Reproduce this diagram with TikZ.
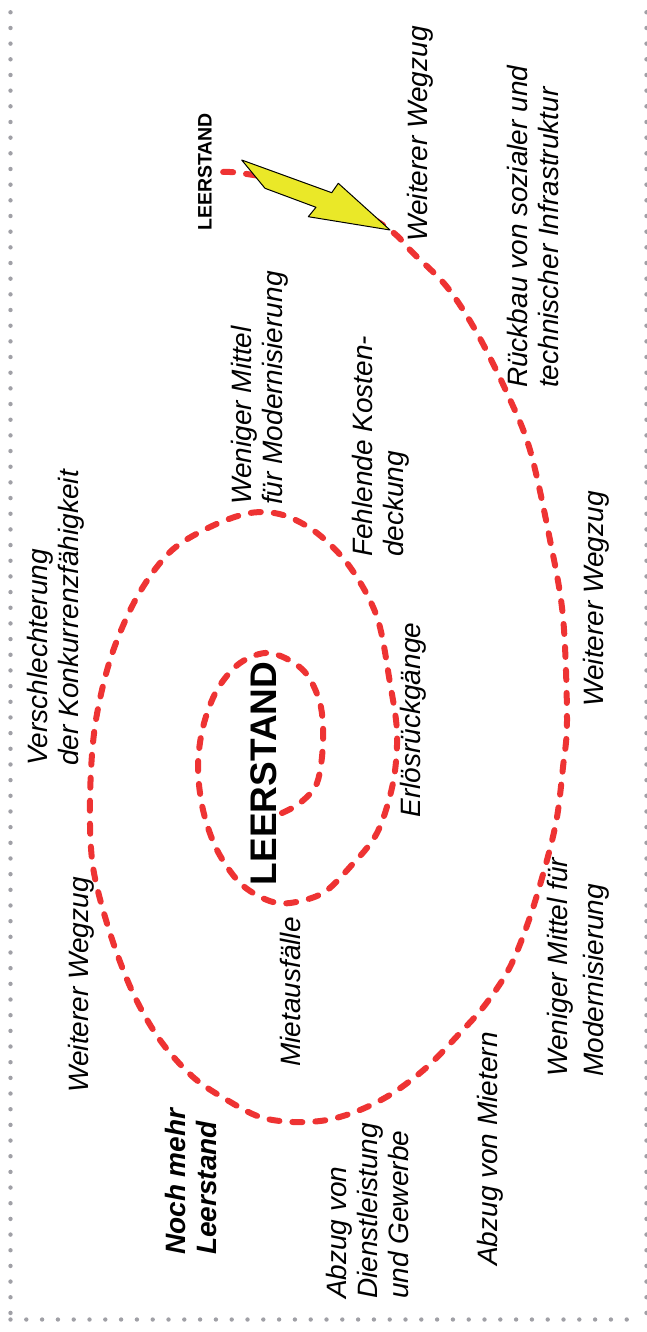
\documentclass[tikz,border=0pt]{standalone}
\usepackage{fontspec}
\setmainfont{Liberation Sans}
\definecolor{spiralred}{RGB}{238,51,51}
\definecolor{boltyellow}{RGB}{234,232,40}
\definecolor{dotgray}{RGB}{160,160,166}

\begin{document}
\begin{tikzpicture}[x=1pt, y=-1pt, line cap=round, line join=round,
  spiral/.style={draw=spiralred, line width=6pt, dash pattern=on 10pt off 13pt},
  cause/.style={rotate=90, inner sep=0pt, align=left,
    font=\fontsize{28}{31}\selectfont\itshape},
  core/.style={rotate=90, inner sep=0pt, font=\fontsize{37}{40}\selectfont\bfseries}]
\useasboundingbox (0,0) rectangle (646,1332);

% === Dotted frame (left, right, bottom) ===
\foreach \i in {0,...,83} {
  \fill[dotgray] (10.5,12.3+15.67*\i) circle (2.2);
  \fill[dotgray] (646.5,12.3+15.67*\i) circle (2.2);
}
\foreach \i in {0,...,39}
  \fill[dotgray] (10.5+15.8*\i,1319.5) circle (2.2);

% === Dashed spiral, from the centre outwards ===
\draw[spiral] plot[smooth, tension=0.55] coordinates {
  (282,813) (300,803) (317,783) (323,743) (320,703) (303,670) (270,653)
  (240,663) (217,690) (203,727) (198,767) (203,810) (217,850) (240,883)
  (267,900) (290,903) (323,893) (350,867) (377,833) (393,783) (397,733)
  (390,683) (377,617) (350,567) (317,533) (283,515) (250,513) (210,527)
  (170,552) (137,597) (111,657) (95,726) (90,800) (93,867) (110,933)
  (133,993) (160,1040) (193,1077) (227,1100) (260,1117) (293,1122)
  (327,1120) (360,1110) (393,1093) (427,1067) (460,1033) (485,1005)
  (510,967) (530,917) (547,860) (557,817) (563,767) (567,720) (563,617)
  (550,540) (530,450) (507,393) (477,333) (447,287) (413,253) (390,230)
  (340,200) (290,182) (240,173) (223,172)};

% === Yellow bolt arrow ===
\draw[fill=boltyellow, line width=1pt]
  (241.7,160) -- (331.7,192.7) -- (338.3,183.3) -- (390,230)
  -- (308.3,216.7) -- (316,207.3) -- (265,188.3) -- cycle;

% === Labels ===
\node[core] (centre) at (263.5,773.5) {LEERSTAND};
\node[core, font=\fontsize{19.5}{22}\selectfont\bfseries] (endstate) at (205,172) {LEERSTAND};

\node[cause] (wegzugtop) at (420,134) {Weiterer Wegzug};
\node[cause, anchor=west] (rueckbau) at (533,388) {Rückbau von sozialer und\\technischer Infrastruktur};
\node[cause, anchor=west] (mitteltop) at (260,505) {Weniger Mittel\\für Modernisierung};
\node[cause, anchor=west] (kosten) at (381,557) {Fehlende Kosten-\\deckung};
\node[cause] (erloes) at (413,720) {Erlösrückgänge};
\node[cause] (mietausfall) at (290,992) {Mietausfälle};
\node[cause] (wegzugleft) at (81,985) {Weiterer Wegzug};
\node[cause, anchor=west] (konkurrenz) at (56,766) {Verschlechterung\\der Konkurrenzfähigkeit};
\node[cause, anchor=west, font=\fontsize{28}{31}\selectfont\bfseries\itshape] (nochmehr) at (191,1255) {Noch mehr\\Leerstand};
\node[cause, anchor=west] (gewerbe) at (367,1299) {Abzug von\\Dienstleistung\\und Gewerbe};
\node[cause] (mieter) at (490,1149) {Abzug von Mietern};
\node[cause, anchor=west, font=\fontsize{28}{36}\selectfont\itshape] (mittelright) at (578,1077) {Weniger Mittel für\\Modernisierung};
\node[cause] (wegzugright) at (596,599) {Weiterer Wegzug};
\end{tikzpicture}
\end{document}
